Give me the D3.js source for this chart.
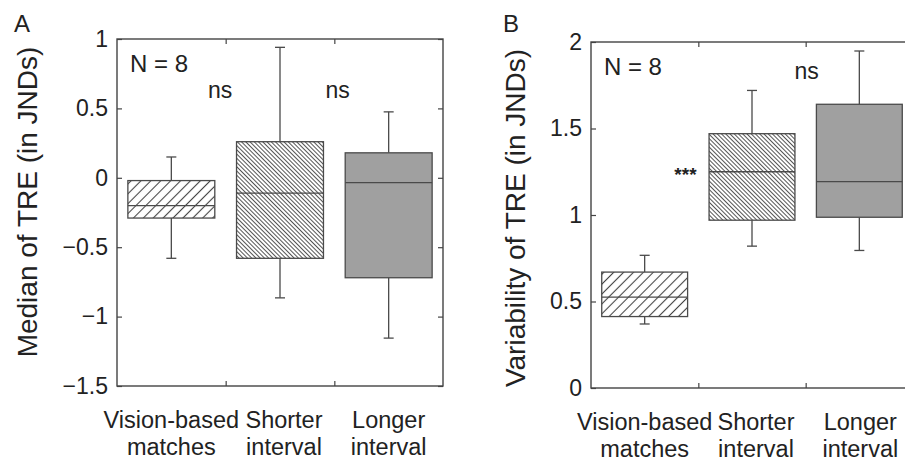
<!DOCTYPE html>
<meta charset="utf-8">
<style>
body { margin: 0; background: #fff; }
text { font-family: "Liberation Sans", Arial, sans-serif; fill: #222; }
.frame { fill: none; stroke: #444; stroke-width: 1.4; }
.tick line { stroke: #444; stroke-width: 1.2; }
.domain { display: none; }
</style>
<body>
<svg id="chart" width="905" height="464"></svg>
<script src="https://cdn.jsdelivr.net/npm/d3@7/dist/d3.min.js"></script>
<script>

// categories (two-line labels)
var categories = [["Vision-based", "matches"], ["Shorter", "interval"], ["Longer", "interval"]];
var fills = ["url(#hatchWide)", "url(#hatchDense)", "#a0a0a0"];

// panel A: median of TRE  [whisker low, q1, median, q3, whisker high]
var medianLow  = [-0.58, -0.865, -1.155];
var medianQ1   = [-0.29, -0.58, -0.72];
var medianMid  = [-0.20, -0.11, -0.035];
var medianQ3   = [-0.02, 0.26, 0.18];
var medianHigh = [0.15, 0.94, 0.475];
var medianTicks = [-1.5, -1, -0.5, 0, 0.5, 1];

// panel B: variability of TRE
var varLow  = [0.37, 0.82, 0.795];
var varQ1   = [0.413, 0.97, 0.987];
var varMid  = [0.525, 1.25, 1.193];
var varQ3   = [0.67, 1.47, 1.64];
var varHigh = [0.767, 1.72, 1.948];
var varTicks = [0, 0.5, 1, 1.5, 2];

var svg = d3.select("#chart");

// hatching patterns
var defs = svg.append("defs");
defs.append("pattern")
    .attr("id", "hatchWide")
    .attr("patternUnits", "userSpaceOnUse")
    .attr("width", 7).attr("height", 7)
    .attr("patternTransform", "rotate(-45)")
  .append("line")
    .attr("x1", 0).attr("y1", 3.5).attr("x2", 7).attr("y2", 3.5)
    .attr("stroke", "#444").attr("stroke-width", 1.1);
defs.append("pattern")
    .attr("id", "hatchDense")
    .attr("patternUnits", "userSpaceOnUse")
    .attr("width", 3).attr("height", 3)
    .attr("patternTransform", "rotate(45)")
  .append("line")
    .attr("x1", 0).attr("y1", 1.5).attr("x2", 3).attr("y2", 1.5)
    .attr("stroke", "#555").attr("stroke-width", 1);

function panel(opt) {
  var x = d3.scaleLinear().domain([0.5, 3.5]).range(opt.xr);
  var y = d3.scaleLinear().domain(opt.yd).range(opt.yr);
  var g = svg.append("g");

  var stats = categories.map((c, i) => ({
    i: i + 1, lo: opt.lo[i], q1: opt.q1[i], med: opt.mid[i], q3: opt.q3[i], hi: opt.hi[i]
  }));

  // inward ticks on all four sides
  g.append("g").attr("transform", "translate(" + opt.xr[0] + ",0)")
    .call(d3.axisLeft(y).tickValues(opt.ticks).tickSize(-5).tickPadding(9)
      .tickFormat(d => d3.format("")(d).replace("-", "\u2212")))
    .selectAll("text").style("font-size", "23px").attr("fill", "#222");
  g.append("g").attr("transform", "translate(" + opt.xr[1] + ",0)")
    .call(d3.axisRight(y).tickValues(opt.ticks).tickSize(-5).tickFormat(""));
  g.append("g").attr("transform", "translate(0," + opt.yr[0] + ")")
    .call(d3.axisBottom(x).tickValues([1.5, 2.5]).tickSize(-5).tickFormat(""));
  g.append("g").attr("transform", "translate(0," + opt.yr[1] + ")")
    .call(d3.axisTop(x).tickValues([1.5, 2.5]).tickSize(-5).tickFormat(""));

  var half = (x(1.4) - x(1)) ;
  var cap = 5;
  var box = g.selectAll(".box").data(stats).enter().append("g").attr("class", "box");
  box.append("line")
    .attr("x1", d => x(d.i)).attr("x2", d => x(d.i))
    .attr("y1", d => y(d.q3)).attr("y2", d => y(d.hi));
  box.append("line")
    .attr("x1", d => x(d.i)).attr("x2", d => x(d.i))
    .attr("y1", d => y(d.q1)).attr("y2", d => y(d.lo));
  box.append("line")
    .attr("x1", d => x(d.i) - cap).attr("x2", d => x(d.i) + cap)
    .attr("y1", d => y(d.hi)).attr("y2", d => y(d.hi));
  box.append("line")
    .attr("x1", d => x(d.i) - cap).attr("x2", d => x(d.i) + cap)
    .attr("y1", d => y(d.lo)).attr("y2", d => y(d.lo));
  box.append("rect")
    .attr("x", d => x(d.i) - half).attr("width", 2 * half)
    .attr("y", d => y(d.q3)).attr("height", d => y(d.q1) - y(d.q3))
    .attr("fill", (d, i) => fills[i]);
  box.append("line")
    .attr("x1", d => x(d.i) - half).attr("x2", d => x(d.i) + half)
    .attr("y1", d => y(d.med)).attr("y2", d => y(d.med));
  box.selectAll("line, rect").attr("stroke", "#4a4a4a").attr("stroke-width", 1.3);

  // frame
  g.append("rect").attr("class", "frame")
    .attr("x", opt.xr[0]).attr("y", opt.yr[1])
    .attr("width", opt.xr[1] - opt.xr[0]).attr("height", opt.yr[0] - opt.yr[1]);

  // category labels
  var lab = g.selectAll(".cat").data(categories).enter().append("text")
    .attr("class", "cat")
    .attr("text-anchor", "middle")
    .style("font-size", "23.5px")
    .attr("x", (d, i) => x(i + 1) + opt.labShift[i]);
  lab.append("tspan").attr("y", opt.yr[0] + 42).text(d => d[0]);
  lab.append("tspan").attr("x", (d, i) => x(i + 1) + opt.labShift[i])
    .attr("y", opt.yr[0] + 69).text(d => d[1]);

  // axis title
  g.append("text")
    .attr("transform", "translate(" + opt.titleX + "," + opt.titleY + ") rotate(-90)")
    .attr("text-anchor", "middle")
    .style("font-size", "28px")
    .text(opt.title);

  // panel letter
  g.append("text").attr("x", opt.letterX).attr("y", 32)
    .style("font-size", "24px").text(opt.letter);

  g.append("text").attr("x", x(0.62)).attr("y", opt.yr[1] + 33)
    .style("font-size", "24px").text("N = 8");

  return {x: x, y: y, g: g};
}

var pA = panel({
  xr: [117, 443], yr: [386, 39], yd: [-1.5, 1], ticks: medianTicks,
  lo: medianLow, q1: medianQ1, mid: medianMid, q3: medianQ3, hi: medianHigh,
  labShift: [0, 4, 0],
  title: "Median of TRE (in JNDs)", titleX: 37, titleY: 202,
  letter: "A", letterX: 14
});
pA.g.selectAll(".ns").data([1.45, 2.53]).enter().append("text")
  .attr("text-anchor", "middle").style("font-size", "23px")
  .attr("x", d => pA.x(d)).attr("y", pA.y(0.576)).text("ns");

var pB = panel({
  xr: [591, 913], yr: [388, 42], yd: [0, 2], ticks: varTicks,
  lo: varLow, q1: varQ1, mid: varMid, q3: varQ3, hi: varHigh,
  labShift: [0, 4, 1],
  title: "Variability of TRE (in JNDs)", titleX: 525, titleY: 218,
  letter: "B", letterX: 503
});
pB.g.append("text").attr("text-anchor", "middle").style("font-size", "23px")
  .attr("x", pB.x(2.51)).attr("y", pB.y(1.785)).text("ns");
pB.g.append("text").attr("text-anchor", "middle").style("font-size", "19px")
  .style("font-weight", "bold")
  .attr("x", pB.x(1.38)).attr("y", pB.y(1.25) + 9).text("***");

</script>
